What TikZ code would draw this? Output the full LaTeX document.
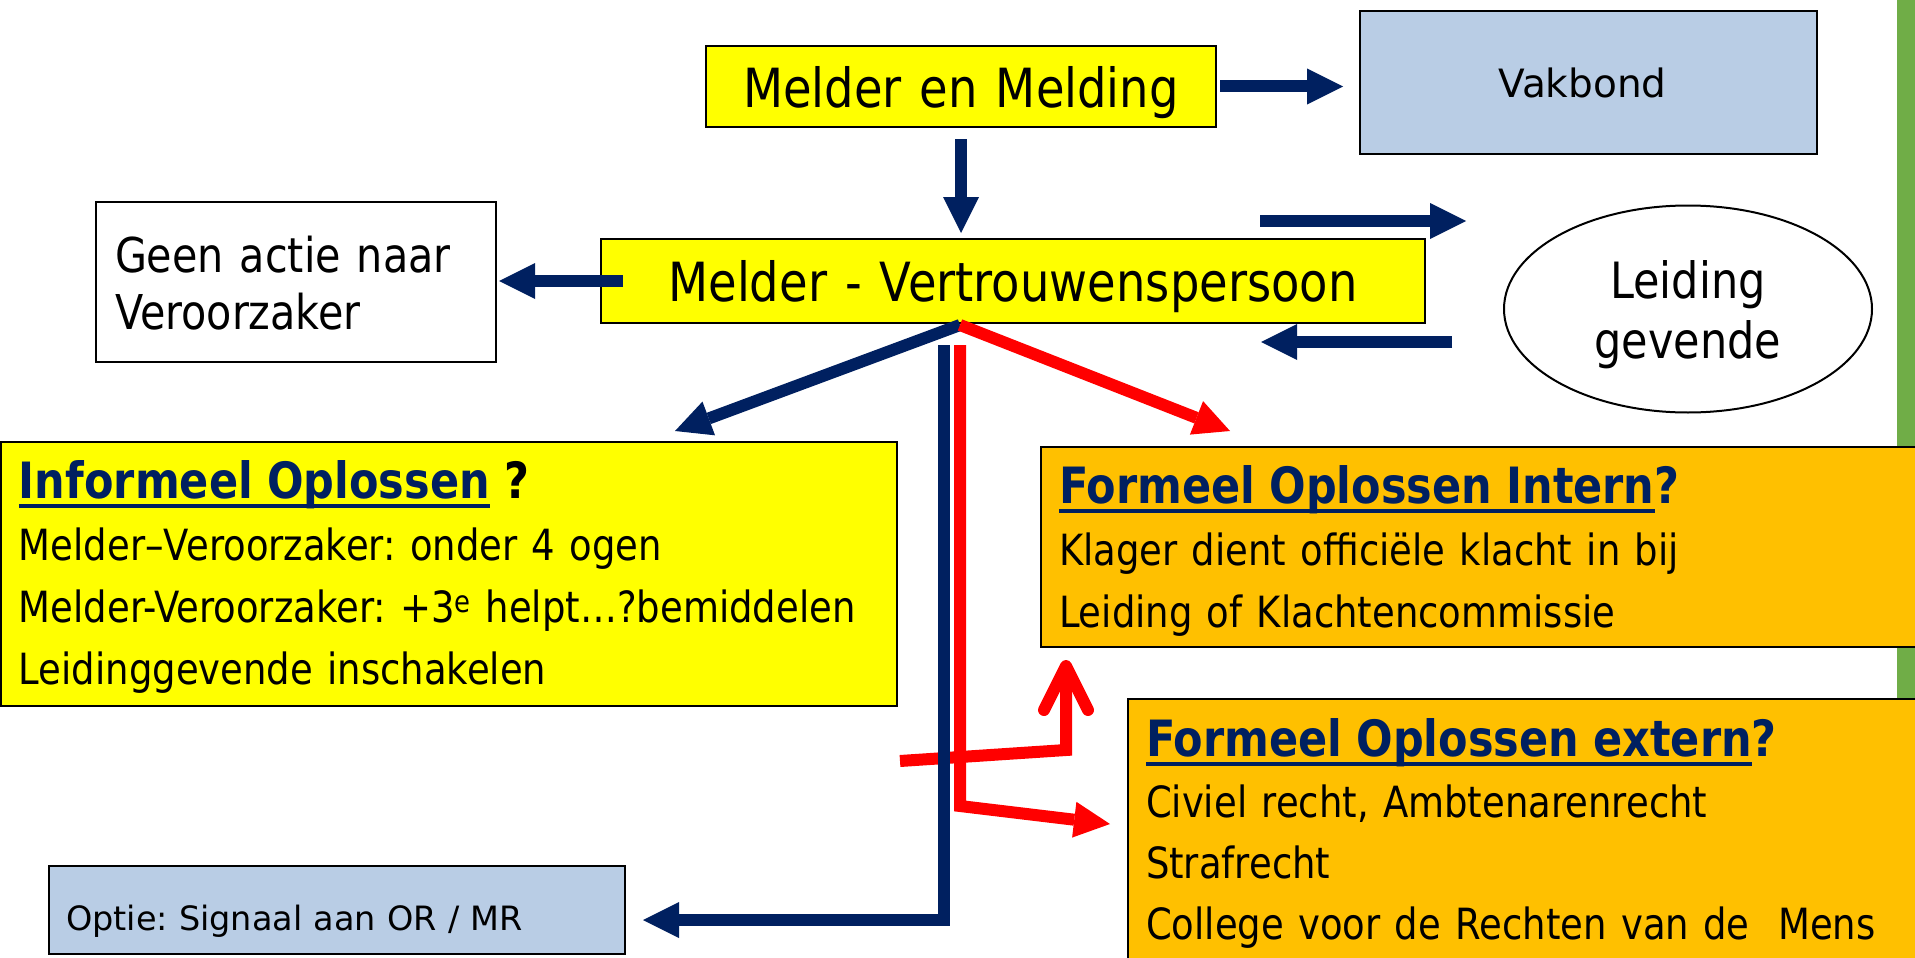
\documentclass[tikz,border=0pt]{standalone}
\usepackage{fontspec}
\setmainfont{DejaVu Sans}[FakeStretch=0.86]
\newfontfamily\verd{DejaVu Sans}
\usetikzlibrary{arrows.meta,shapes.geometric,calc}
\definecolor{navy}{HTML}{002060}
\definecolor{ylw}{HTML}{FFFF00}
\definecolor{org}{HTML}{FFC000}
\definecolor{lblue}{HTML}{B9CDE5}
\definecolor{grn}{HTML}{70AD47}
\definecolor{rd}{HTML}{FF0000}
\newcommand\fsz[2]{\fontsize{#1}{#2}\selectfont}
\newcommand\ulnavy[1]{\setbox0\hbox{#1}\rlap{\rule[-10pt]{\wd0}{4pt}}\box0}
\frenchspacing
\begin{document}
\begin{tikzpicture}[x=1pt,y=-1pt,
  box/.style={draw=black, line width=2pt, anchor=north west, inner ysep=0pt, align=left},
  navyarrow/.style={draw=navy, line width=12pt, -{Triangle[length=36pt,width=36pt,line width=0pt]}},
  redarrow/.style={draw=rd, line width=12pt, -{Triangle[length=36pt,width=36pt,line width=0pt]}},
  redbarb/.style={draw=rd, line width=12pt, -{Straight Barb[length=44pt,width=44pt,round]}}
]
\useasboundingbox (0,0) rectangle (1915,958);
\clip (0,0) rectangle (1915,958);
\fill[white] (0,0) rectangle (1915,958);
\fill[grn] (1897,0) rectangle (1915,958);

% nodes
\node[box, fill=ylw, text width=474pt, inner xsep=18pt, align=center, text height=61pt, text depth=20pt, font=\fsz{54}{60}] (md) at (705,45) {Melder en Melding};
\node[box, fill=lblue, text width=421pt, inner xsep=18pt, align=center, text height=87pt, text depth=56pt, font=\verd\fsz{39}{44}] (vb) at (1359,10) {Vakbond\kern12pt};
\node[box, fill=ylw, text width=788pt, inner xsep=18pt, align=center, text height=62pt, text depth=22pt, font=\fsz{54}{60}] (mv) at (600,238) {Melder - Vertrouwenspersoon};
\node[box, fill=white, text width=362pt, inner xsep=19pt, text height=70pt, text depth=90pt, font=\fsz{48}{57}] (ga) at (95,201) {Geen actie naar\\Veroorzaker};
\node[draw=black, line width=2pt, ellipse, minimum width=368pt, minimum height=207pt, inner sep=0pt, align=center, text height=98pt, text depth=0pt, font=\fsz{50}{60}] (le) at (1688,309) {Leiding\\gevende};
\node[box, fill=ylw, text width=860pt, inner xsep=18pt, text height=56pt, text depth=208pt, font=\fsz{43}{62}] (inf) at (0,441)
  {{\fsz{50}{62}\bfseries\color{navy}\ulnavy{Informeel Oplossen}} {\fsz{50}{62}\bfseries ?}\\
   Melder–Veroorzaker: onder 4 ogen\\
   Melder-Veroorzaker: +3\textsuperscript{e} helpt…?bemiddelen\\
   Leidinggevende inschakelen};
\node[box, fill=org, text width=859pt, inner xsep=18pt, text height=56pt, text depth=144pt, font=\fsz{43}{62}] (fi) at (1040,446)
  {{\fsz{50}{62}\bfseries\color{navy}\ulnavy{Formeel Oplossen Intern}?}\\
   Klager dient officiële klacht in bij\\
   Leiding of Klachtencommissie};
\node[box, fill=org, text width=770pt, inner xsep=18pt, text height=57pt, text depth=223pt, font=\fsz{43}{61}] (fe) at (1127,698)
  {{\fsz{50}{61}\bfseries\color{navy}\ulnavy{Formeel Oplossen extern}?}\\
   Civiel recht, Ambtenarenrecht\\
   Strafrecht\\
   College voor de Rechten van de~~Mens};
\node[box, fill=lblue, text width=542pt, inner xsep=17pt, text height=64pt, text depth=24pt, font=\verd\fsz{33.5}{40}] (op) at (48,865) {Optie: Signaal aan OR / MR};

% coordinates
\coordinate (hub) at (960,325);
\coordinate (lu1) at (1260,221);
\coordinate (ld1) at (1452,342);
\coordinate (ld2) at (1261,342);
\coordinate (infTip) at (675,431);
\coordinate (fiTip) at (1230,431);
\coordinate (rc1) at (900,761);
\coordinate (rc2) at (1066,750);
\coordinate (rcTip) at (1066,660);
\coordinate (nv1) at (944,345);
\coordinate (nv2) at (944,920);
\coordinate (rv1) at (960,345);
\coordinate (rv2) at (960,806);
\coordinate (feTip) at (1110,824);

% connectors
\draw[navyarrow] ([xshift=3pt]md.east) -- ([xshift=-16pt]vb.west |- md.east);
\draw[navyarrow] ([yshift=-11pt]md.south) -- ([yshift=5pt]mv.north -| md.south);
\draw[navyarrow] ([xshift=23pt]mv.west) -- ([xshift=2pt]ga.east |- mv.west);
\draw[navyarrow] (lu1) -- ([xshift=-37pt]le.west |- lu1);
\draw[navyarrow] (ld1) -- (ld2);
\draw[navyarrow] (hub) -- (infTip);
\draw[redarrow] (hub) -- (fiTip);
\draw[redbarb] (rc1) -- (rc2) -- (rcTip);
\draw[navyarrow] (nv1) -- (nv2) -- ([xshift=17pt]op.east |- nv2);
\draw[redarrow] (rv1) -- (rv2) -- (feTip);
\end{tikzpicture}
\end{document}
